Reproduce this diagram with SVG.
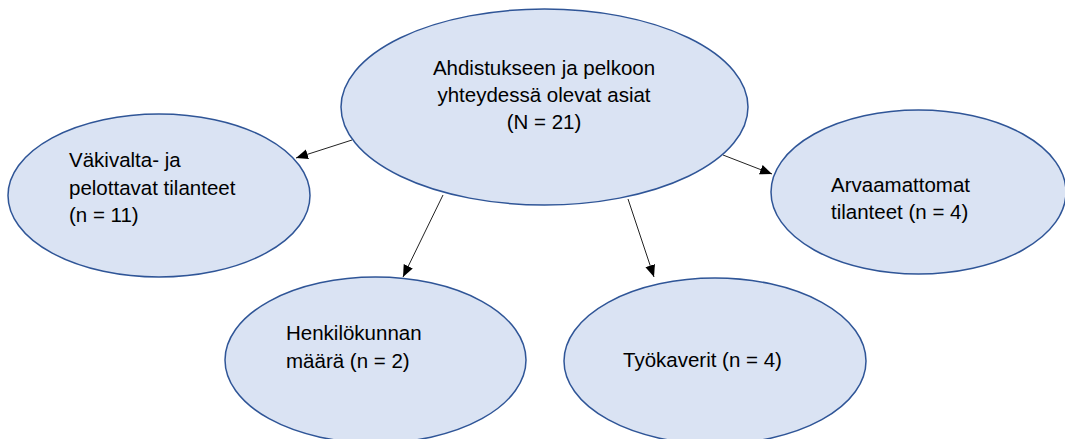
<svg xmlns="http://www.w3.org/2000/svg" width="1065" height="439" viewBox="0 0 1065 439">
<style>
.node{fill:#DAE3F3;stroke:#2F5597;stroke-width:1.5}
.t{font-family:"Liberation Sans",Arial,sans-serif;font-size:20.5px;fill:#000}
.c{text-anchor:middle}
.edge{stroke:#222;stroke-width:1;fill:none;marker-end:url(#arr)}
</style>
<defs>
<marker id="arr" markerUnits="userSpaceOnUse" markerWidth="13" markerHeight="11" refX="12" refY="5" orient="auto">
<path d="M0,0 L12,5 L0,10 Z" fill="#000"/>
</marker>
</defs>
<g id="connectors">
<line class="edge" x1="352" y1="140" x2="296" y2="158"/>
<line class="edge" x1="723" y1="155" x2="772" y2="174"/>
<line class="edge" x1="443" y1="195" x2="403" y2="277"/>
<line class="edge" x1="628" y1="199" x2="654" y2="277"/>
</g>
<g id="node-main">
<ellipse class="node" cx="544.5" cy="107" rx="203.5" ry="98"/>
<text class="t c" x="544" y="75">Ahdistukseen ja pelkoon</text>
<text class="t c" x="544" y="102">yhteydessä olevat asiat</text>
<text class="t c" x="544" y="129">(N = 21)</text>
</g>
<g id="node-vakivalta">
<ellipse class="node" cx="159" cy="195.5" rx="151" ry="81.5"/>
<text class="t" x="69" y="167">Väkivalta- ja</text>
<text class="t" x="69" y="195">pelottavat tilanteet</text>
<text class="t" x="69" y="222">(n = 11)</text>
</g>
<g id="node-arvaamattomat">
<ellipse class="node" cx="918.5" cy="192" rx="147.5" ry="82"/>
<text class="t" x="831" y="192">Arvaamattomat</text>
<text class="t" x="831" y="219">tilanteet (n = 4)</text>
</g>
<g id="node-henkilokunta">
<ellipse class="node" cx="375.5" cy="360" rx="150.5" ry="83"/>
<text class="t" x="286" y="340">Henkilökunnan</text>
<text class="t" x="286" y="368">määrä (n = 2)</text>
</g>
<g id="node-tyokaverit">
<ellipse class="node" cx="715" cy="361" rx="151" ry="83"/>
<text class="t" x="623" y="367">Työkaverit (n = 4)</text>
</g>
</svg>
